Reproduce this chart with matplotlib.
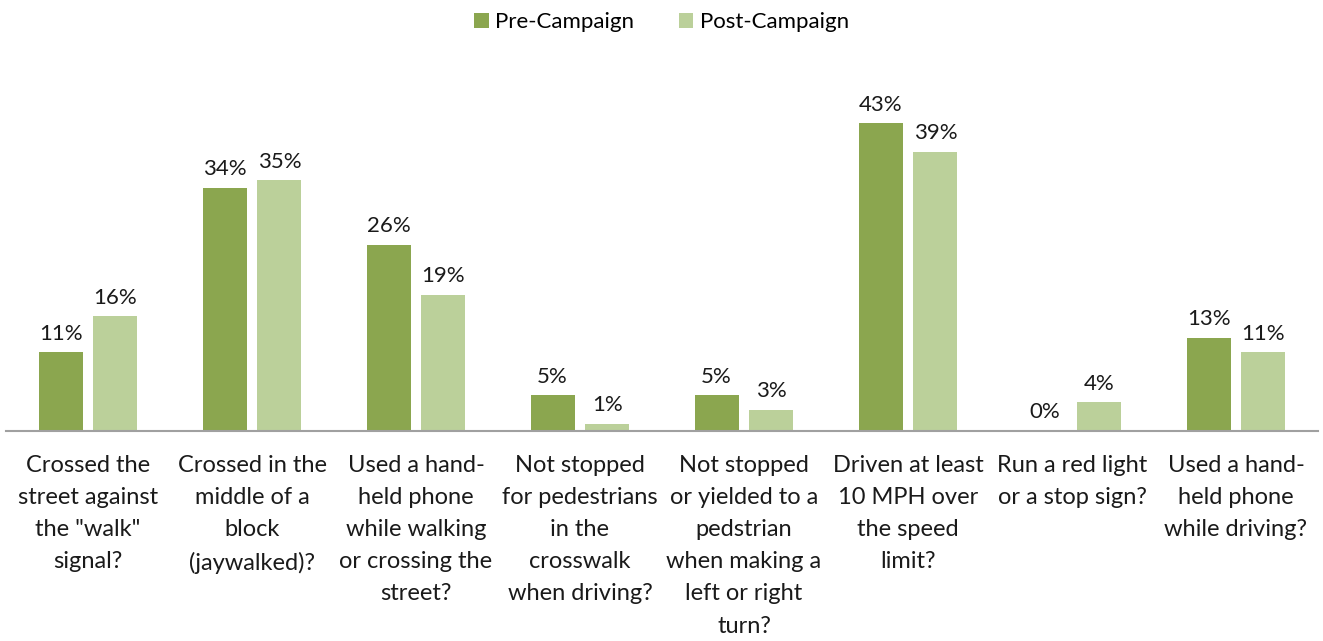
import matplotlib
matplotlib.use("Agg")
import matplotlib.pyplot as plt
import numpy as np

plt.rcParams['font.family'] = ['Lato', 'DejaVu Sans']

categories = [
    'Crossed the\nstreet against\nthe "walk"\nsignal?',
    'Crossed in the\nmiddle of a\nblock\n(jaywalked)?',
    'Used a hand-\nheld phone\nwhile walking\nor crossing the\nstreet?',
    'Not stopped\nfor pedestrians\nin the\ncrosswalk\nwhen driving?',
    'Not stopped\nor yielded to a\npedstrian\nwhen making a\nleft or right\nturn?',
    'Driven at least\n10 MPH over\nthe speed\nlimit?',
    'Run a red light\nor a stop sign?',
    'Used a hand-\nheld phone\nwhile driving?',
]
pre = [11, 34, 26, 5, 5, 43, 0, 13]
post = [16, 35, 19, 1, 3, 39, 4, 11]

dark = '#8BA64F'
light = '#BBD09A'

fig = plt.figure(figsize=(13.23, 6.41), dpi=100)
ax = fig.add_axes([6 / 1323, (641 - 431) / 641, 1312 / 1323, (431 - 73) / 641])

x = np.arange(len(categories))
w = 0.268
gap = 0.067
b1 = ax.bar(x - (w + gap) / 2, pre, w, color=dark, label='Pre-Campaign')
b2 = ax.bar(x + (w + gap) / 2, post, w, color=light, label='Post-Campaign')

for bars, vals in ((b1, pre), (b2, post)):
    for r, v in zip(bars, vals):
        ax.text(r.get_x() + r.get_width() / 2, v + 1.2, f'{v}%',
                ha='center', va='bottom', fontsize=16, color='#1a1a1a')

ax.set_xlim(-0.5, len(categories) - 0.5)
ax.set_ylim(0, 50)
ax.set_yticks([])
ax.set_xticks(x)
ax.set_xticklabels(categories, fontsize=17, color='#1a1a1a', linespacing=1.66)
ax.tick_params(axis='x', length=0, pad=17)
for s in ('top', 'right', 'left'):
    ax.spines[s].set_visible(False)
ax.spines['bottom'].set_color('#A0A0A0')
ax.spines['bottom'].set_linewidth(1.5)

fig.legend(loc='upper center', bbox_to_anchor=(0.5, 1.012), ncol=2, frameon=False,
           fontsize=16, handlelength=0.65, handleheight=0.65, columnspacing=2.0,
           handletextpad=0.3)

fig.savefig('out.png', dpi=100)
